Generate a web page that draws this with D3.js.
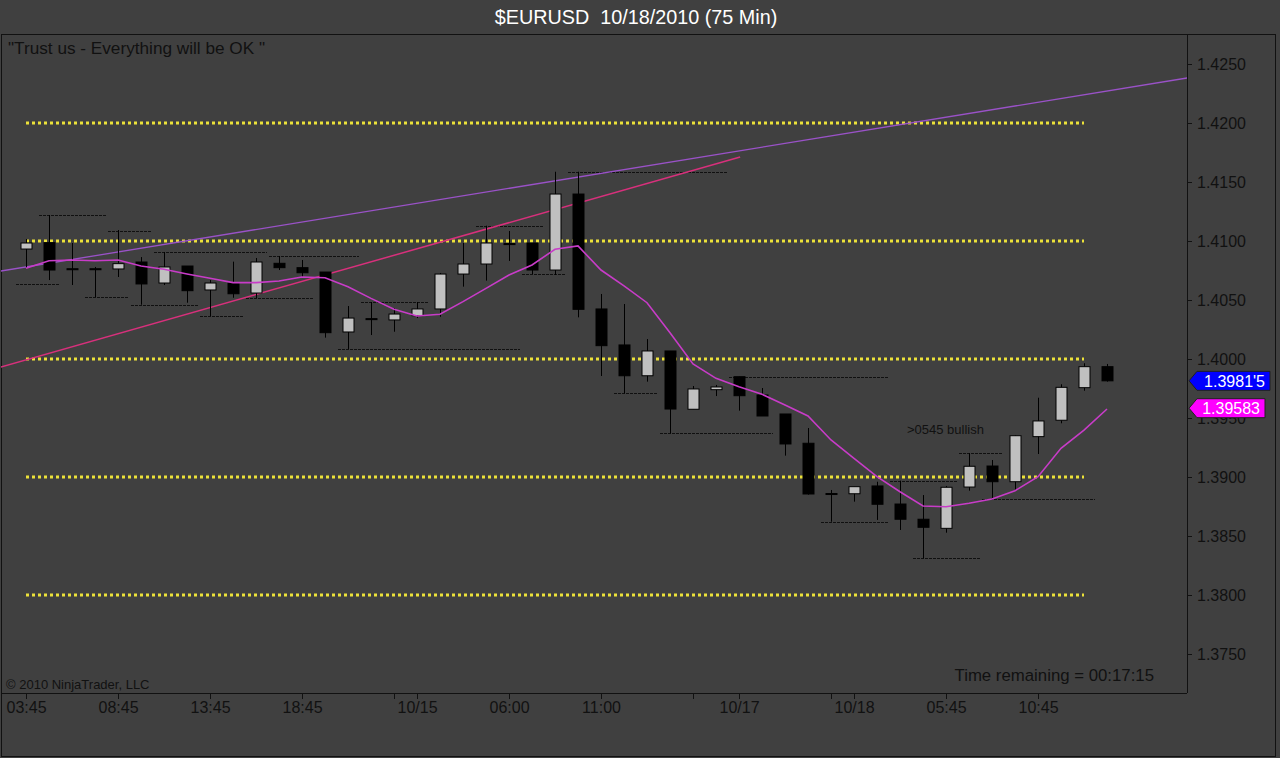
<!DOCTYPE html>
<html><head><meta charset="utf-8">
<script src="https://cdn.jsdelivr.net/npm/d3@7"></script>
<style>
html,body{margin:0;padding:0;background:#404040;}
svg{display:block;font-family:"Liberation Sans",Arial,sans-serif;}
</style></head>
<body><svg id="c" width="1280" height="758"></svg>
<script>
// ---- data (75-min bars, EURUSD) ----
const opens  = [1.40932,1.40986,1.40765,1.40765,1.40763,1.40822,1.40644,1.40788,1.40585,1.40644,1.40559,1.40811,1.40774,1.40737,1.40229,1.40342,1.40331,1.40367,1.40424,1.40720,1.40805,1.40978,1.40983,1.40754,1.41398,1.40424,1.40119,1.39858,1.40068,1.39574,1.39740,1.39850,1.39695,1.39534,1.39286,1.38860,1.38858,1.38924,1.38771,1.38642,1.38565,1.38915,1.39093,1.38960,1.39342,1.39481,1.39757,1.39935];
const highs  = [1.41017,1.41220,1.40983,1.40780,1.41093,1.40864,1.40907,1.40788,1.40669,1.40825,1.40856,1.40873,1.40839,1.40737,1.40449,1.40483,1.40432,1.40483,1.40729,1.40983,1.41130,1.41085,1.40983,1.41587,1.41587,1.40551,1.40466,1.40169,1.40068,1.39771,1.39780,1.39850,1.39754,1.39534,1.39415,1.38890,1.38918,1.38960,1.38969,1.38847,1.38924,1.39201,1.39144,1.39356,1.39672,1.39786,1.39964,1.39958];
const lows   = [1.40771,1.40669,1.40627,1.40525,1.40695,1.40460,1.40627,1.40477,1.40364,1.40519,1.40517,1.40754,1.40686,1.40181,1.40085,1.40203,1.40231,1.40347,1.40358,1.40613,1.40664,1.40831,1.40720,1.40712,1.40353,1.39856,1.39709,1.39808,1.39370,1.39574,1.39686,1.39562,1.39517,1.39181,1.38850,1.38621,1.38791,1.38636,1.38551,1.38311,1.38528,1.38884,1.38811,1.38890,1.39195,1.39455,1.39731,1.39808];
const closes = [1.40983,1.40754,1.40760,1.40760,1.40808,1.40636,1.40780,1.40579,1.40644,1.40553,1.40822,1.40774,1.40731,1.40223,1.40347,1.40336,1.40381,1.40424,1.40720,1.40805,1.40983,1.40972,1.40754,1.41398,1.40421,1.40113,1.39858,1.40068,1.39576,1.39746,1.39763,1.39689,1.39517,1.39280,1.38856,1.38856,1.38918,1.38769,1.38642,1.38574,1.38913,1.39091,1.38960,1.39350,1.39475,1.39760,1.39935,1.39815];
const maValues = [1.40769,1.40833,1.40839,1.40833,1.40839,1.40788,1.40760,1.40720,1.40684,1.40647,1.40647,1.40661,1.40695,1.40689,1.40613,1.40514,1.40421,1.40364,1.40379,1.40486,1.40599,1.40712,1.40797,1.40930,1.40958,1.40754,1.40619,1.40477,1.40223,1.39958,1.39836,1.39765,1.39701,1.39610,1.39517,1.39314,1.39158,1.39003,1.38875,1.38754,1.38748,1.38777,1.38814,1.38884,1.39003,1.39243,1.39398,1.39576];
// horizontal levels (yellow dotted)
const levels = [1.4200,1.4100,1.4000,1.3900,1.3800];
// swing high/low dashed markers: [price, startBar, endBar]
const swingPrices = [1.41220,1.40636,1.40525,1.41087,1.40460,1.40907,1.40364,1.40517,1.40873,1.40085,1.40481,1.41125,1.40720,1.41587,1.39709,1.39370,1.39850,1.38621,1.38969,1.38311,1.39201,1.38811];
const swingStart  = [1,0,3,4,5,6,8,10,11,14,15,20,22,24,26,28,31,35,38,39,41,42];
const swingEnd    = [4,2,5,6,8,11,10,13,15,22,18,23,24,31,28,33,38,38,41,42,43,47];
// trend lines: [bar, price] anchors
const trendViolet = [[-1.2,1.40742],[50.6,1.42385]];
const trendPink   = [[-1.1,1.39932],[31.05,1.41712]];
// axis ticks
const xTickBars   = [0,4,8,12,16,17,21,25,29,31,35,36,40,44];
const xTickLabels = ["03:45","08:45","13:45","18:45","","10/15","06:00","11:00","","10/17","","10/18","05:45","10:45"];
const yTicks = [1.375,1.380,1.385,1.390,1.395,1.400,1.405,1.410,1.415,1.420,1.425];
const lastPriceLabel = "1.3981'5", lastPrice = 1.39815;
const maLabel = "1.39583", maLast = 1.39583;

// ---- layout ----
const W = 1280, H = 758;
const plot = {l:1, t:34, r:1187, b:693};
const svg = d3.select("#c");
const x = d3.scaleLinear().domain([0,47]).range([26, 26 + 47*23]);
const y = d3.scaleLinear().domain([1.375,1.425]).range([654,64]);
const font = '"Liberation Sans",Arial,sans-serif';

svg.append("rect").attr("width",W).attr("height",H).attr("fill","#404040");

// title
svg.append("text").attr("x",636).attr("y",24).attr("text-anchor","middle")
  .attr("fill","#ffffff").attr("font-size",19.8).attr("xml:space","preserve")
  .text("$EURUSD  10/18/2010 (75 Min)");

// frame
svg.append("rect").attr("x",1.5).attr("y",34.5).attr("width",1274).attr("height",722)
  .attr("fill","none").attr("stroke","#111").attr("stroke-width",1);

svg.append("defs").append("clipPath").attr("id","clip").append("rect")
  .attr("x",plot.l).attr("y",plot.t).attr("width",plot.r-plot.l).attr("height",plot.b-plot.t);
const g = svg.append("g").attr("clip-path","url(#clip)");

// yellow dotted levels
g.selectAll("line.lvl").data(levels).join("line").attr("class","lvl")
  .attr("x1",x(0)).attr("x2",x(46)).attr("y1",d=>Math.round(y(d))).attr("y2",d=>Math.round(y(d)))
  .attr("stroke","#ece23a").attr("stroke-width",3).attr("stroke-dasharray","3,3");

// swing dashed lines
const swings = swingPrices.map((p,i)=>({p, s:swingStart[i], e:swingEnd[i]}));
g.selectAll("line.sw").data(swings).join("line").attr("class","sw")
  .attr("x1",d=>x(d.s)-10).attr("x2",d=>x(d.e)-12)
  .attr("y1",d=>Math.round(y(d.p))+0.5).attr("y2",d=>Math.round(y(d.p))+0.5)
  .attr("stroke","#101010").attr("stroke-width",1).attr("stroke-dasharray","3,1");

// trend lines
const ln = d3.line().x(d=>x(d[0])).y(d=>y(d[1]));
g.append("path").attr("d",ln(trendViolet)).attr("fill","none").attr("stroke","#9a52c8").attr("stroke-width",1.3);
g.append("path").attr("d",ln(trendPink)).attr("fill","none").attr("stroke","#d8307c").attr("stroke-width",1.5);

// candles
const bars = opens.map((o,i)=>({i,o,h:highs[i],l:lows[i],c:closes[i]}));
const cg = g.selectAll("g.cdl").data(bars).join("g").attr("class","cdl");
cg.append("line").attr("x1",d=>Math.round(x(d.i))+0.5).attr("x2",d=>Math.round(x(d.i))+0.5)
  .attr("y1",d=>y(d.h)).attr("y2",d=>y(d.l)).attr("stroke","#000").attr("stroke-width",1);
cg.append("rect")
  .attr("x",d=>Math.round(x(d.i))-5).attr("width",11)
  .attr("y",d=>y(Math.max(d.o,d.c)))
  .attr("height",d=>Math.max(1, Math.abs(y(d.o)-y(d.c))))
  .attr("fill",d=>d.c>=d.o ? "#c0c0c0" : "#000")
  .attr("stroke","#000").attr("stroke-width",1);

// moving average
g.append("path").attr("d",d3.line().x((d,i)=>x(i)).y(d=>y(d))(maValues))
  .attr("fill","none").attr("stroke","#c83cc8").attr("stroke-width",1.6);

// annotations
svg.append("text").attr("x",8).attr("y",54).attr("fill","#111").attr("font-size",17.2)
  .attr("xml:space","preserve").text("\"Trust us - Everything will be OK \"");
svg.append("text").attr("x",907).attr("y",434).attr("fill","#111").attr("font-size",13)
  .text(">0545 bullish");
svg.append("text").attr("x",6).attr("y",689).attr("fill","#111").attr("font-size",13)
  .text("© 2010 NinjaTrader, LLC");
svg.append("text").attr("x",1154).attr("y",681).attr("text-anchor","end").attr("fill","#111").attr("font-size",16.8)
  .text("Time remaining = 00:17:15");

// axes
const xa = svg.append("g").attr("transform",`translate(0,${plot.b})`)
  .call(d3.axisBottom(x).tickValues(xTickBars).tickFormat((d,i)=>xTickLabels[i]).tickSize(6).tickSizeOuter(0).tickPadding(3));
xa.select(".domain").remove();
xa.selectAll("text").attr("font-size",16).attr("fill","#111").attr("font-family",font);
xa.selectAll("line").attr("stroke","#111");
svg.append("line").attr("x1",1).attr("x2",plot.r).attr("y1",plot.b+0.5).attr("y2",plot.b+0.5).attr("stroke","#111");

const ya = svg.append("g").attr("transform",`translate(${plot.r},0)`)
  .call(d3.axisRight(y).tickValues(yTicks).tickFormat(d3.format(".4f")).tickSize(5).tickSizeOuter(0).tickPadding(5));
ya.select(".domain").remove();
ya.selectAll("text").attr("font-size",16).attr("fill","#111").attr("font-family",font);
ya.selectAll("line").attr("stroke","#111");
svg.append("line").attr("x1",plot.r+0.5).attr("x2",plot.r+0.5).attr("y1",plot.t).attr("y2",plot.b).attr("stroke","#111");

// price markers
function marker(price, label, color, w){
  const yy = y(price);
  const tip = plot.r + 2, bx = tip + 8;
  svg.append("path")
    .attr("d",`M${tip},${yy} L${bx},${yy-9.5} L${bx+w},${yy-9.5} L${bx+w},${yy+9.5} L${bx},${yy+9.5} Z`)
    .attr("fill",color).attr("stroke","#202020").attr("stroke-width",1);
  svg.append("text").attr("x",bx+w-5).attr("y",yy+6).attr("text-anchor","end")
    .attr("fill","#fff").attr("font-size",16).text(label);
}
marker(lastPrice, lastPriceLabel, "#0000ff", 73);
marker(maLast, maLabel, "#ff00ff", 68);
</script></body></html>
